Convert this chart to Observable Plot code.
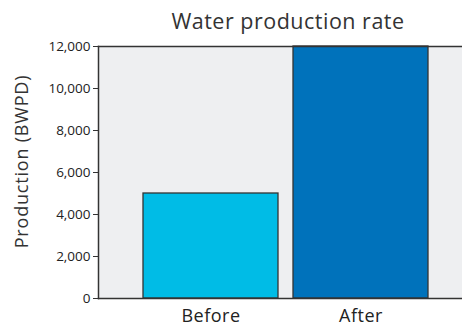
<!DOCTYPE html>
<html>
<head>
<meta charset="utf-8">
<script src="https://cdn.jsdelivr.net/npm/d3@7"></script>
<script src="https://cdn.jsdelivr.net/npm/@observablehq/plot@0.6"></script>
<style>
  body { margin: 0; background: #fff; font-family: "Open Sans", sans-serif; }
  #title { width: 462px; box-sizing: border-box; padding-left: 114px; text-align: center;
           font-size: 21.5px; letter-spacing: 0.5px; color: #333; height: 40px; line-height: 40px; padding-top: 1px; }
  svg { display: block; }
  g[aria-label="text"] text { letter-spacing: 0.8px; }
  g[aria-label="x-axis tick label"] text { letter-spacing: 0.5px; }
</style>
</head>
<body>
<div id="title">Water production rate</div>
<div id="chart"></div>
<script>
const categories = ["Before", "After"];
const values = [5000, 12000];
const barColors = ["#00bce6", "#0072bb"];
const yTicks = [0, 2000, 4000, 6000, 8000, 10000, 12000];
const yLabel = "Production (BWPD)";

const data = categories.map((c, i) => ({label: c, value: values[i]}));

const chart = Plot.plot({
  width: 462,
  height: 286,
  marginTop: 6,
  marginBottom: 28,
  marginLeft: 98,
  marginRight: 0,
  style: {fontFamily: "Open Sans, sans-serif", color: "#333", background: "transparent", overflow: "visible"},
  x: {domain: categories, range: [98, 473], paddingInner: 0.1, paddingOuter: 0.3, label: null},
  y: {domain: [0, 12000], label: null},
  color: {domain: categories, range: barColors},
  marks: [
    Plot.frame({fill: "#eeeff1", stroke: "none"}),
    Plot.barY(data, {x: "label", y: "value", fill: "label", stroke: "#333", strokeWidth: 1.3}),
    Plot.frame({anchor: "top", stroke: "#333", strokeWidth: 1.5}),
    Plot.frame({anchor: "left", stroke: "#333", strokeWidth: 1.5}),
    Plot.frame({anchor: "bottom", stroke: "#333", strokeWidth: 1.5}),
    Plot.axisY({ticks: yTicks, tickFormat: d3.format(","), tickSize: 5, tickPadding: 3,
                fontSize: 13.5, label: null, stroke: "#333", fill: "#222"}),
    Plot.axisX({tickSize: 0, tickPadding: 11, fontSize: 18, label: null, fill: "#222"}),
    Plot.text([yLabel], {frameAnchor: "left", textAnchor: "middle", rotate: -90, dx: -76, dy: -11,
                         fontSize: 18, fill: "#333"})
  ]
});
document.getElementById("chart").appendChild(chart);
</script>
</body>
</html>
